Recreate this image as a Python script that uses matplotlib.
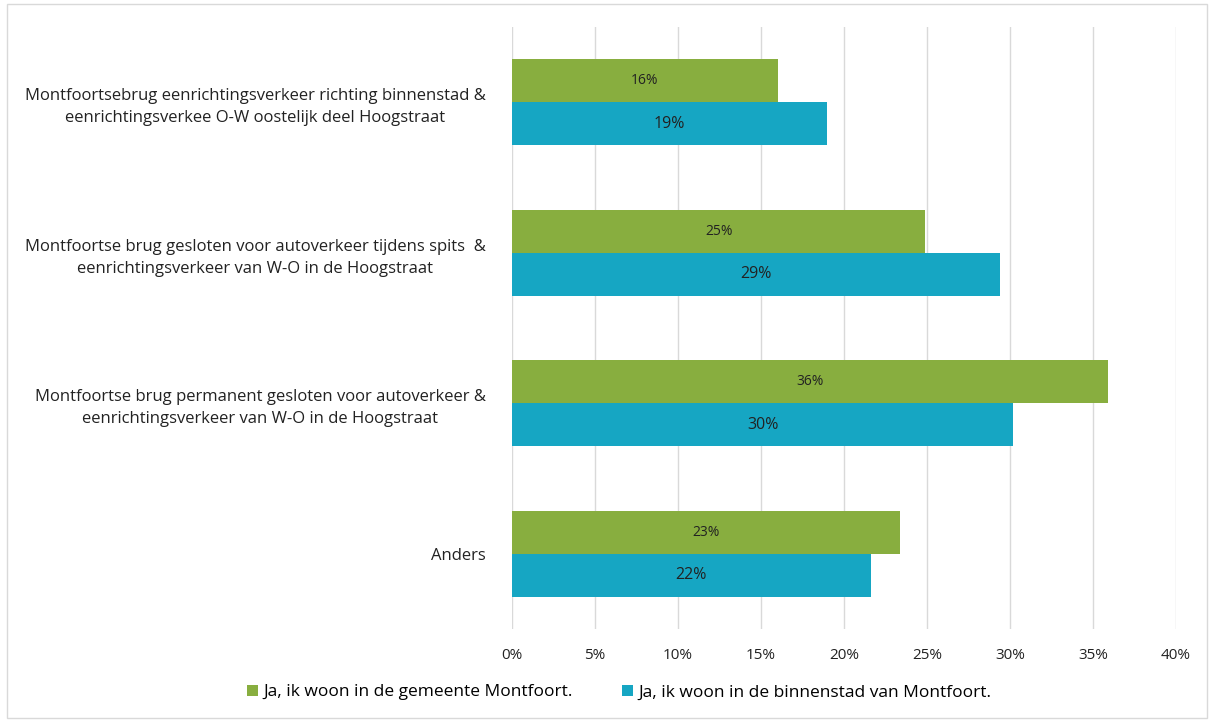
import matplotlib
matplotlib.use("Agg")
import matplotlib.pyplot as plt
import numpy as np
from matplotlib.patches import Rectangle

categories = [
    "Montfoortsebrug eenrichtingsverkeer richting binnenstad &\neenrichtingsverkee O-W oostelijk deel Hoogstraat",
    "Montfoortse brug gesloten voor autoverkeer tijdens spits  &\neenrichtingsverkeer van W-O in de Hoogstraat",
    "Montfoortse brug permanent gesloten voor autoverkeer &\neenrichtingsverkeer van W-O in de Hoogstraat",
    "Anders",
]
series_names = ["Ja, ik woon in de gemeente Montfoort.",
                "Ja, ik woon in de binnenstad van Montfoort."]
gemeente = [16.0, 24.9, 35.9, 23.4]
binnenstad = [19.0, 29.4, 30.2, 21.6]
gemeente_labels = ["16%", "25%", "36%", "23%"]
binnenstad_labels = ["19%", "29%", "30%", "22%"]
xticks = [0, 5, 10, 15, 20, 25, 30, 35, 40]

green = "#88AE3F"
blue = "#16A6C3"

plt.rcParams['font.family'] = ['Open Sans', 'DejaVu Sans']

fig = plt.figure(figsize=(12.14, 7.22), dpi=100)
ax = fig.add_axes([0.4217, 0.1288, 0.9687 - 0.4217, 0.9626 - 0.1288])

y = np.arange(len(categories))
h = 0.285
b1 = ax.barh(y - h / 2, gemeente, height=h, color=green, label=series_names[0], zorder=3)
b2 = ax.barh(y + h / 2, binnenstad, height=h, color=blue, label=series_names[1], zorder=3)

for bar, lab in zip(b1, gemeente_labels):
    ax.text(bar.get_width() / 2, bar.get_y() + bar.get_height() / 2, lab,
            ha="center", va="center", fontsize=10, color="#222222", zorder=4)
for bar, lab in zip(b2, binnenstad_labels):
    ax.text(bar.get_width() / 2, bar.get_y() + bar.get_height() / 2, lab,
            ha="center", va="center", fontsize=11.5, color="#222222", zorder=4)

ax.set_ylim(len(categories) - 0.5, -0.5)
ax.set_xlim(0, 40)
ax.set_xticks(xticks)
ax.set_xticklabels([f"{t}%" for t in xticks], fontsize=11, color="#222222")
ax.set_yticks(y)
ax.set_yticklabels(categories, fontsize=12, color="#222222", ha="right",
                   multialignment="center", linespacing=1.5)
ax.tick_params(axis="y", length=0, pad=19)
ax.tick_params(axis="x", length=0, pad=14)
ax.grid(axis="x", color="#D9D9D9", linewidth=1, zorder=0)
for s in ax.spines.values():
    s.set_visible(False)

leg = fig.legend(handles=[b1, b2], labels=series_names, loc="center",
                 bbox_to_anchor=(0.51, 0.041), ncol=2, frameon=False,
                 fontsize=12.5, handlelength=0.65, handleheight=0.65,
                 handletextpad=0.3, columnspacing=2.8)

fig.add_artist(Rectangle((0.006, 0.006), 0.988, 0.988, transform=fig.transFigure,
                         fill=False, edgecolor="#D9D9D9", linewidth=1))

fig.savefig("out.png", dpi=100)
